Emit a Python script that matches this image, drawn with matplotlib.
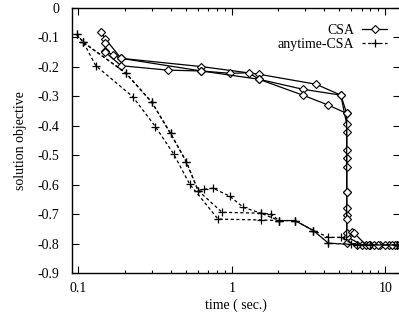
import matplotlib
matplotlib.use("Agg")
import matplotlib.pyplot as plt
from matplotlib.ticker import FixedLocator, NullFormatter, FixedFormatter

plt.rcParams['font.family'] = ['Liberation Serif', 'DejaVu Serif']

# CSA runs (time in sec., objective)
csa1_t = [0.141, 0.150, 0.190, 0.634, 1.50, 3.54, 5.13, 5.6, 5.6, 5.6, 5.6, 5.6, 5.6, 7.07, 8.0, 9.27, 10.6, 12.0]
csa1_y = [-0.083, -0.105, -0.171, -0.199, -0.225, -0.259, -0.296, -0.358, -0.422, -0.511, -0.626, -0.703, -0.777, -0.805, -0.805, -0.805, -0.805, -0.805]
csa2_t = [0.150, 0.150, 0.169, 0.190, 0.634, 0.98, 1.29, 1.50, 2.90, 5.13, 5.6, 5.6, 5.6, 5.6, 5.6, 6.06, 6.27, 7.5, 8.5, 10.0, 11.5]
csa2_y = [-0.120, -0.146, -0.160, -0.171, -0.214, -0.222, -0.220, -0.242, -0.276, -0.296, -0.394, -0.482, -0.541, -0.680, -0.765, -0.760, -0.765, -0.805, -0.805, -0.805, -0.805]
csa3_t = [0.150, 0.190, 0.382, 0.634, 1.50, 2.90, 4.22, 5.6, 5.6, 5.6, 5.6, 6.5, 7.8, 9.0, 11.0]
csa3_y = [-0.150, -0.196, -0.211, -0.214, -0.242, -0.296, -0.329, -0.358, -0.626, -0.717, -0.799, -0.805, -0.805, -0.805, -0.805]

# anytime-CSA runs
any1_t = [0.0975, 0.108, 0.130, 0.226, 0.318, 0.418, 0.531, 0.813, 1.55, 2.03, 2.58, 3.40, 4.26, 6.5, 12.0]
any1_y = [-0.089, -0.117, -0.196, -0.301, -0.403, -0.496, -0.598, -0.717, -0.720, -0.722, -0.722, -0.756, -0.799, -0.805, -0.805]
any2_t = [0.0975, 0.108, 0.203, 0.301, 0.399, 0.505, 0.603, 0.656, 0.753, 0.97, 1.186, 1.55, 1.80, 2.03, 2.58, 3.40, 4.26, 5.13, 6.0, 12.0]
any2_y = [-0.089, -0.117, -0.220, -0.320, -0.426, -0.522, -0.620, -0.616, -0.612, -0.639, -0.677, -0.697, -0.700, -0.722, -0.722, -0.756, -0.779, -0.779, -0.800, -0.805]
any3_t = [0.108, 0.203, 0.301, 0.399, 0.505, 0.603, 0.864, 1.55, 2.03, 2.58, 3.40, 4.26, 8.0, 12.0]
any3_y = [-0.117, -0.220, -0.320, -0.426, -0.522, -0.620, -0.694, -0.697, -0.722, -0.722, -0.756, -0.799, -0.805, -0.805]

yticks = [0, -0.1, -0.2, -0.3, -0.4, -0.5, -0.6, -0.7, -0.8, -0.9]
xticks = [0.1, 1, 10]

fig = plt.figure(figsize=(3.99, 3.2), dpi=100)
ax = fig.add_axes([0.1805, 0.147, 0.8225, 0.828])

csa_style = dict(color='k', lw=0.9, marker='D', ms=3.6, mfc='white', mec='k', mew=0.8)
any_style = dict(color='k', lw=0.9, ls=(0, (2.5, 2)), marker='+', ms=6, mew=0.9)

ax.plot(csa1_t, csa1_y, label='CSA', **csa_style)
ax.plot(csa2_t, csa2_y, **csa_style)
ax.plot(csa3_t, csa3_y, **csa_style)
ax.plot(any1_t, any1_y, label='anytime-CSA', **any_style)
ax.plot(any2_t, any2_y, **any_style)
ax.plot(any3_t, any3_y, **any_style)

ax.set_xscale('log')
ax.set_xlim(0.091, 12.5)
ax.set_ylim(-0.9, 0)
ax.xaxis.set_major_locator(FixedLocator(xticks))
ax.xaxis.set_major_formatter(FixedFormatter(['0.1', '1', '10']))
minors = [m * d for d in (0.01, 0.1, 1) for m in range(2, 10)]
ax.xaxis.set_minor_locator(FixedLocator(minors))
ax.xaxis.set_minor_formatter(NullFormatter())
ax.set_yticks(yticks)
ax.set_yticklabels(['0', '-0.1', '-0.2', '-0.3', '-0.4', '-0.5', '-0.6', '-0.7', '-0.8', '-0.9'])

ax.tick_params(which='both', direction='in', top=True, right=True, labelsize=10, width=0.8)
ax.tick_params(which='major', length=5)
ax.tick_params(axis='y', which='major', pad=9)
ax.tick_params(axis='x', which='major', pad=6.5)
ax.tick_params(which='minor', length=2.5)
for s in ax.spines.values():
    s.set_linewidth(1.0)

ax.set_xlabel('time ( sec.)', fontsize=10, labelpad=2.5)
ax.set_ylabel('solution objective', fontsize=10, labelpad=8)

leg = ax.legend(loc='upper right', bbox_to_anchor=(0.978, 0.962), frameon=False, markerfirst=False,
                fontsize=10, handlelength=1.8, handletextpad=0.6, labelspacing=0.1, borderaxespad=0)
for t in leg.get_texts():
    t.set_ha('right')

fig.savefig('out.png', dpi=100)
